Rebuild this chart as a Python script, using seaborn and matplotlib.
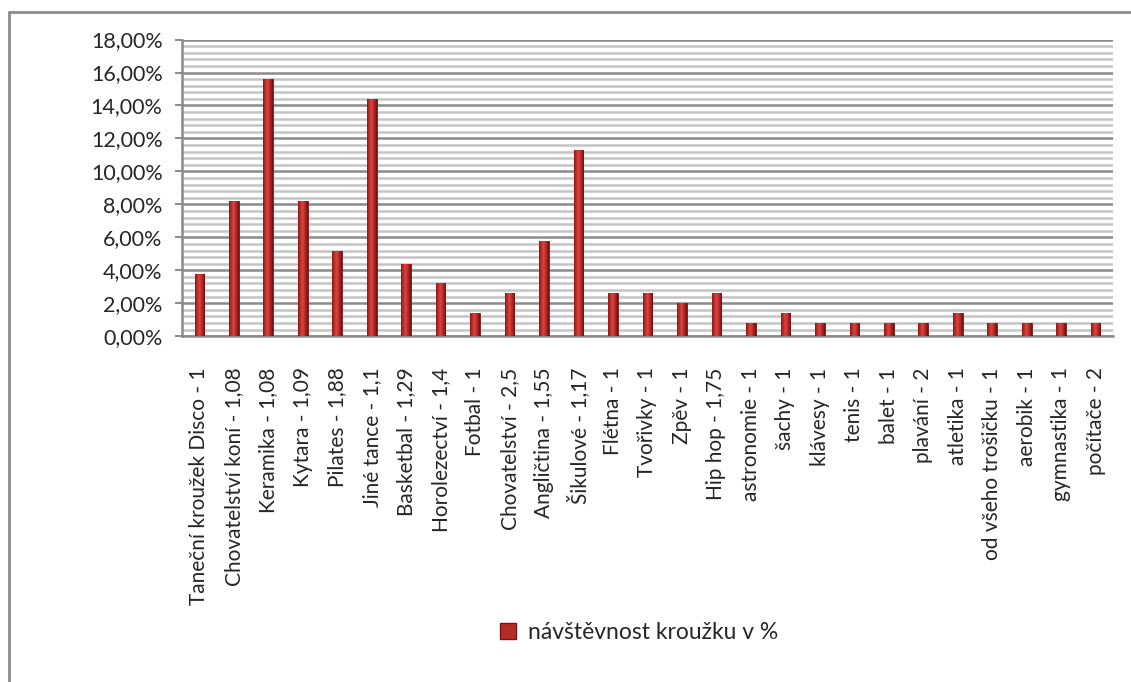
import numpy as np
import pandas as pd
import matplotlib
matplotlib.use("Agg")
import matplotlib.pyplot as plt
import matplotlib.ticker as mtick
from matplotlib.lines import Line2D
from matplotlib.patches import Rectangle
import seaborn as sns

# data
categories = [
    "Taneční kroužek Disco - 1", "Chovatelství koní - 1,08", "Keramika - 1,08",
    "Kytara - 1,09", "Pilates - 1,88", "Jiné tance - 1,1", "Basketbal - 1,29",
    "Horolezectví - 1,4", "Fotbal - 1", "Chovatelství - 2,5", "Angličtina - 1,55",
    "Šikulové - 1,17", "Flétna - 1", "Tvořivky - 1", "Zpěv - 1", "Hip hop - 1,75",
    "astronomie - 1", "šachy - 1", "klávesy - 1", "tenis - 1", "balet - 1",
    "plavání - 2", "atletika - 1", "od všeho trošičku - 1", "aerobik - 1",
    "gymnastika - 1", "počítače - 2",
]
values = [
    3.8, 8.2, 15.6, 8.2, 5.2, 14.4, 4.4, 3.2, 1.4, 2.6, 5.8, 11.3, 2.6, 2.6,
    2.0, 2.6, 0.8, 1.4, 0.8, 0.8, 0.8, 0.8, 1.4, 0.8, 0.8, 0.8, 0.8,
]
series_name = "návštěvnost kroužku v %"

df = pd.DataFrame({"kroužek": categories, "podíl": values})

sns.set_style("white")
plt.rcParams["font.family"] = ["Lato", "DejaVu Sans"]

fig = plt.figure(figsize=(11.31, 6.82), dpi=100)
ax = fig.add_axes([0.161, 0.507, 0.823, 0.435])

# gridlines: minor every 0.4 %, major every 2 %
ax.set_ylim(0, 18)
ax.yaxis.set_major_locator(mtick.MultipleLocator(2))
ax.yaxis.set_minor_locator(mtick.MultipleLocator(0.4))
ax.yaxis.set_major_formatter(mtick.FuncFormatter(lambda v, _: f"{v:.2f}%".replace(".", ",")))
ax.grid(which="minor", axis="y", color="#c4c4c4", linewidth=1.8)
ax.grid(which="major", axis="y", color="#8a8a8a", linewidth=1.8)
ax.set_axisbelow(True)

sns.barplot(data=df, x="kroužek", y="podíl", color="#b82a28", width=0.28,
            edgecolor="#7a1414", linewidth=0.6, ax=ax, zorder=3)

# 3D-ish shading on each bar, clipped to the bar patch
grad = np.linspace(0, 1, 64)
shade = np.abs(grad - 0.45) * 2
cmap = matplotlib.colors.LinearSegmentedColormap.from_list(
    "bar", ["#d8463f", "#b52826", "#6e1010"])
for p in ax.patches:
    x0, y0 = p.get_x(), p.get_y()
    im = ax.imshow(shade[np.newaxis, :], cmap=cmap, aspect="auto",
                   extent=(x0, x0 + p.get_width(), y0, y0 + p.get_height()),
                   zorder=4, vmin=0, vmax=1.1)
    im.set_clip_path(p)
ax.set_xlim(-0.5, len(categories) - 0.5)
ax.set_ylim(0, 18)

for side in ["top", "right"]:
    ax.spines[side].set_visible(False)
for side in ["left", "bottom"]:
    ax.spines[side].set_color("#8a8a8a")
    ax.spines[side].set_linewidth(1.8)

ax.set_xlabel("")
ax.set_ylabel("")
ax.tick_params(axis="y", which="major", left=True, length=5, width=1.4,
               color="#8a8a8a", pad=9, labelsize=15.5)
ax.tick_params(axis="y", which="minor", left=False)
ax.tick_params(axis="x", bottom=False, pad=19, labelsize=15)
plt.setp(ax.get_xticklabels(), rotation=90, ha="center", va="top")

handle = Rectangle((0, 0), 1, 1, facecolor="#b82a28", edgecolor="#7a1414")
fig.legend([handle], [series_name], loc="center", bbox_to_anchor=(0.565, 0.072),
           frameon=False, fontsize=16.5, handlelength=0.7, handleheight=0.7,
           handletextpad=0.5)

# outer chart frame
fig.add_artist(Line2D([0.008, 0.008], [0, 0.982], color="#8c8c8c", linewidth=2,
                      transform=fig.transFigure))
fig.add_artist(Line2D([0.008, 1], [0.982, 0.982], color="#8c8c8c", linewidth=2,
                      transform=fig.transFigure))

fig.savefig("out.png", dpi=100)
